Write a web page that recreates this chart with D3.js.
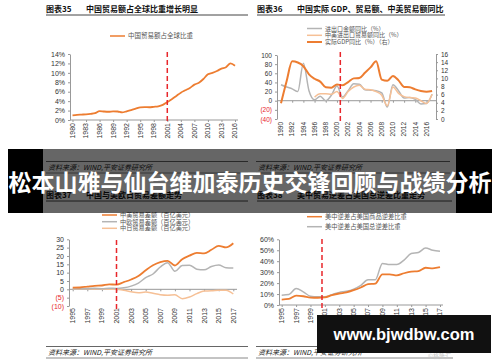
<!DOCTYPE html>
<html>
<head>
<meta charset="utf-8">
<script src="https://cdn.jsdelivr.net/npm/d3@7"></script>
<style>
  body { margin: 0; background: #fff; }
  svg { display: block; }
  text { font-family: "Liberation Sans", Arial, sans-serif; }
  .cn { font-family: "Noto Sans CJK SC", sans-serif; }
</style>
<title></title></head>
<body>
<script>
// ---- chart 35: China share of world trade (%)
var years35 = [1980,1981,1982,1983,1984,1985,1986,1987,1988,1989,1990,1991,1992,1993,1994,1995,1996,1997,1998,1999,2000,2001,2002,2003,2004,2005,2006,2007,2008,2009,2010,2011,2012,2013,2014,2015,2016];
var share35 = [1.0,1.1,1.15,1.2,1.3,1.45,1.9,1.8,1.75,1.85,1.8,1.6,1.85,2.1,2.4,2.7,2.75,2.7,2.8,2.9,3.2,3.8,4.4,5.1,5.8,6.3,6.8,7.5,7.9,8.7,9.7,10.0,10.4,10.9,11.2,12.0,11.5];
var yTicks35 = [0,2,4,6,8,10,12,14];
var xLabels35 = [1980,1983,1986,1989,1992,1995,1998,2001,2004,2007,2010,2013,2016];

// ---- chart 36: trade growth (left) and real GDP growth (right)
var years36 = [1990,1991,1992,1993,1994,1995,1996,1997,1998,1999,2000,2001,2002,2003,2004,2005,2006,2007,2008,2009,2010,2011,2012,2013,2014,2015,2016,2017];
var trade36 = [35,30,26,20,82,22,2,10,0,12,32,8,22,37,36,24,23,22,17,-14,35,22,6,7,3,-7,-6,14];
var usChina36 = [null,null,null,null,null,null,8,15,15,14,20,5,20,30,34,25,24,20,12,-11,30,16,9,7,6,0,-6,14];
var gdp36 = [3.9,9.3,14.2,13.9,13.0,11.0,9.9,9.2,7.8,7.7,8.5,8.3,9.1,10.0,10.1,11.4,12.7,14.2,9.7,9.4,10.6,9.5,7.9,7.8,7.3,6.9,6.7,6.9];
var yTicks36 = [-40,-20,0,20,40,60,80,100];
var yTicks36r = [0,2,4,6,8,10,12,14,16];
var xLabels36 = [1990,1992,1994,1996,1998,2000,2002,2004,2006,2008,2010,2012,2014,2016];

// ---- chart 37: trade balance with US / EU / Japan (100 bn USD)
var years37 = [1995,1996,1997,1998,1999,2000,2001,2002,2003,2004,2005,2006,2007,2008,2009,2010,2011,2012,2013,2014,2015,2016,2017];
var us37 = [1.0,1.1,1.6,2.1,2.3,3.0,2.8,4.3,5.9,8.0,11.4,14.4,16.3,17.1,14.3,18.1,20.2,21.9,21.6,23.7,26.1,25.1,27.6];
var eu37 = [0.2,0.3,0.5,0.6,0.4,0.7,0.5,0.9,1.9,3.7,7.0,9.2,13.4,16.0,10.8,14.3,14.5,12.1,11.7,13.7,14.6,13.0,12.8];
var jp37 = [0.0,0.2,0.3,0.2,0.1,0.0,0.1,-0.5,-1.5,-2.1,-1.6,-2.4,-3.2,-3.5,-3.3,-5.6,-4.6,-2.6,-1.0,-0.9,-0.6,-0.5,-2.8];
var yTicks37 = [-10,-5,0,5,10,15,20,25,30];
var xLabels37 = [1995,1997,1999,2001,2003,2005,2007,2009,2011,2013,2015,2017];

// ---- chart 38: US-China deficit share of US deficit (%)
var years38 = years37;
var goods38 = [5,5.5,8.5,8,6.8,6.6,7,9,10.5,11.5,13.5,16,19,19.5,28,28,27,29,30.5,31,34,33.5,34.5];
var total38 = [9,9.5,15,12,8,7.5,7.5,9.5,11.5,12.5,14.5,18,23,23,38,37,37,41,47,48,52,50,49];
var yTicks38 = [0,10,20,30,40,50,60];
var xLabels38 = xLabels37;

var ORANGE = "#ED7D31", GREY = "#B4B4B4", LIGHT = "#F6C096", RED = "#E8262B";

var svg = d3.select("body").append("svg").attr("width", 500).attr("height", 362);
svg.append("rect").attr("width", 500).attr("height", 362).attr("fill", "#fff");

function fmt(suffix) {
  return function (d) { return d < 0 ? "(" + (-d) + ")" : d + suffix; };
}

// one excel-like panel
function panel(p) {
  var x = d3.scaleLinear().domain(p.xDom).range(p.xRng);
  var y = d3.scaleLinear().domain(p.yDom).range(p.yRng);
  var g = svg.append("g");

  // y axis
  var ya = g.append("g").attr("transform", "translate(" + p.axisX + ",0)")
    .call(d3.axisLeft(y).tickValues(p.yTicks).tickSize(2).tickSizeOuter(0).tickPadding(3).tickFormat(fmt(p.suffix)));
  ya.select(".domain").attr("stroke", "#999");
  ya.selectAll(".tick line").attr("stroke", "#999");
  ya.selectAll(".tick text").attr("font-size", p.fs).attr("fill", function (d) { return d < 0 ? RED : "#333"; });

  // right axis if any
  var yR = null;
  if (p.yDomR) {
    yR = d3.scaleLinear().domain(p.yDomR).range(p.yRngR);
    var yra = g.append("g").attr("transform", "translate(" + p.axisXR + ",0)")
      .call(d3.axisRight(yR).tickValues(p.yTicksR).tickSize(2).tickSizeOuter(0).tickPadding(3));
    yra.select(".domain").attr("stroke", "#999");
    yra.selectAll(".tick line").attr("stroke", "#999");
    yra.selectAll(".tick text").attr("font-size", p.fs).attr("fill", "#333");
  }

  // x axis on the zero line
  var xa = g.append("g").attr("transform", "translate(0," + y(0) + ")")
    .call(d3.axisBottom(x).tickValues(p.xLabels).tickSize(2).tickSizeOuter(0).tickFormat(""));
  xa.select(".domain").remove();
  xa.selectAll(".tick line").attr("stroke", "#999");
  g.append("line").attr("x1", p.axisX).attr("x2", p.axisEnd)
    .attr("y1", y(0)).attr("y2", y(0)).attr("stroke", "#999");

  // rotated year labels
  g.selectAll("text.yr").data(p.xLabels).join("text").attr("class", "yr")
    .attr("transform", function (d) { return "translate(" + x(d) + "," + p.labelTop + ") rotate(-90)"; })
    .attr("text-anchor", "end").attr("dy", "0.35em")
    .attr("font-size", p.fs).attr("fill", "#333")
    .text(function (d) { return d; });

  // series
  p.series.forEach(function (s) {
    var sc = s.right ? yR : y;
    var pts = p.years.map(function (yr, i) { return [yr, s.values[i]]; });
    var line = d3.line().defined(function (d) { return d[1] != null; })
      .x(function (d) { return x(d[0]); }).y(function (d) { return sc(d[1]); })
      .curve(d3.curveMonotoneX);
    g.append("path").datum(pts).attr("d", line).attr("fill", "none")
      .attr("stroke", s.color).attr("stroke-width", s.w).attr("stroke-linejoin", "round");
  });

  // red dashed marker
  g.append("line").attr("x1", x(p.mark)).attr("x2", x(p.mark))
    .attr("y1", p.markY[0]).attr("y2", p.markY[1])
    .attr("stroke", RED).attr("stroke-width", 1.5).attr("stroke-dasharray", "5,3");
}

function legend(x0, items) {
  items.forEach(function (it) {
    svg.append("line").attr("x1", x0).attr("x2", x0 + 15).attr("y1", it.y).attr("y2", it.y)
      .attr("stroke", it.color).attr("stroke-width", it.w);
    svg.append("text").attr("class", "cn").attr("x", x0 + 18).attr("y", it.y).attr("dy", "0.35em")
      .attr("font-size", it.fs).attr("fill", "#555").text(it.label);
  });
}

function header(x0, x1, y0, num, title) {
  svg.append("text").attr("class", "cn").attr("x", x0).attr("y", y0).attr("dy", "0.35em")
    .attr("font-size", 8).attr("font-weight", "bold").attr("fill", "#111").text(num);
  svg.append("text").attr("class", "cn").attr("x", x0 + 40).attr("y", y0).attr("dy", "0.35em")
    .attr("font-size", 8).attr("font-weight", "bold").attr("fill", "#111").text(title);
  svg.append("line").attr("x1", x0).attr("x2", x1).attr("y1", y0 + 6).attr("y2", y0 + 6)
    .attr("stroke", "#444").attr("stroke-width", 1);
}

function source(x0, x1, yLine) {
  svg.append("line").attr("x1", x0).attr("x2", x1).attr("y1", yLine).attr("y2", yLine).attr("stroke", "#666");
  svg.append("text").attr("class", "cn").attr("x", x0 + 2).attr("y", yLine + 6).attr("dy", "0.35em")
    .attr("font-size", 7).attr("font-style", "italic").attr("fill", "#222").text("资料来源：WIND,平安证券研究所");
  svg.append("line").attr("x1", x0).attr("x2", x1).attr("y1", yLine + 11.5).attr("y2", yLine + 11.5).attr("stroke", "#888");
}

// ---- headers and sources
header(46, 248, 9, "图表35", "中国贸易额占全球比重增长明显");
header(257, 445, 9, "图表36", "中国实际 GDP、贸易额、中美贸易额同比");
header(46, 248, 195, "图表37", "中国与美欧日贸易差额走势");
header(257, 452, 195, "图表38", "美中贸易逆差占美国总逆差比重走势");
source(46, 248, 161.5);
source(256, 450, 161.5);
source(46, 248, 346.5);
source(256, 453, 346.5);

// ---- chart 35
legend(110, [{ y: 36, color: ORANGE, w: 1.5, fs: 6.5, label: "中国贸易额占全球比重" }]);
panel({
  years: years35, xDom: [1980, 2016], xRng: [72.5, 235], yDom: [0, 14], yRng: [120, 54],
  axisX: 70, axisEnd: 238, yTicks: yTicks35, suffix: "%", fs: 7, xLabels: xLabels35, labelTop: 123,
  series: [{ values: share35, color: ORANGE, w: 1.8 }],
  mark: 2001, markY: [52, 122]
});

// ---- chart 36
legend(307, [
  { y: 28.5, color: GREY, w: 1.5, fs: 6, label: "进出口金额同比（%）" },
  { y: 35.3, color: LIGHT, w: 1.5, fs: 6, label: "中美进出口贸易额同比（%）" },
  { y: 42, color: ORANGE, w: 2, fs: 6, label: "实际GDP同比（%）（右）" }
]);
panel({
  years: years36, xDom: [1990, 2016], xRng: [281, 426.5], yDom: [-40, 100], yRng: [119, 55],
  axisX: 277, axisEnd: 436, yTicks: yTicks36, suffix: "", fs: 6.5, xLabels: xLabels36, labelTop: 122,
  yDomR: [0, 16], yRngR: [119, 54], axisXR: 436, yTicksR: yTicks36r,
  series: [
    { values: trade36, color: GREY, w: 1.5 },
    { values: usChina36, color: LIGHT, w: 1.5 },
    { values: gdp36, color: ORANGE, w: 2, right: true }
  ],
  mark: 2000.6, markY: [52, 122]
});

// ---- chart 37
legend(102, [
  { y: 215, color: ORANGE, w: 1.5, fs: 6.2, label: "中美贸易差额（百亿美元）" },
  { y: 221.7, color: GREY, w: 1.5, fs: 6.2, label: "中欧贸易差额（百亿美元）" },
  { y: 228.3, color: LIGHT, w: 1.5, fs: 6.2, label: "中日贸易差额（百亿美元）" }
]);
panel({
  years: years37, xDom: [1995, 2017], xRng: [72.7, 233.3], yDom: [-10, 30], yRng: [306, 239.3],
  axisX: 69, axisEnd: 237, yTicks: yTicks37, suffix: "", fs: 7, xLabels: xLabels37, labelTop: 308,
  series: [
    { values: jp37, color: LIGHT, w: 1.5 },
    { values: eu37, color: GREY, w: 1.5 },
    { values: us37, color: ORANGE, w: 1.8 }
  ],
  mark: 2001, markY: [240, 310]
});

// ---- chart 38
legend(307, [
  { y: 216.7, color: ORANGE, w: 1.5, fs: 6.3, label: "美中逆差占美国商品逆差比重" },
  { y: 226.7, color: GREY, w: 1.5, fs: 6.3, label: "美中逆差占美国总逆差比重" }
]);
panel({
  years: years38, xDom: [1995, 2017], xRng: [281.7, 440], yDom: [0, 60], yRng: [305, 239.3],
  axisX: 279, axisEnd: 443, yTicks: yTicks38, suffix: "%", fs: 7, xLabels: xLabels38, labelTop: 308,
  series: [
    { values: total38, color: GREY, w: 1.5 },
    { values: goods38, color: ORANGE, w: 1.8 }
  ],
  mark: 2000.6, markY: [239, 309]
});

// ---- banner across the middle
svg.append("rect").attr("x", 8).attr("y", 149).attr("width", 35).attr("height", 64).attr("fill", "#000");
svg.append("rect").attr("x", 456).attr("y", 149).attr("width", 36).attr("height", 64).attr("fill", "#000");
svg.append("rect").attr("x", 43).attr("y", 149).attr("width", 413).attr("height", 64).attr("fill", "rgba(0,0,0,0.6)");
svg.append("text").attr("class", "cn").attr("x", 250).attr("y", 183).attr("dy", "0.35em")
  .attr("text-anchor", "middle").attr("font-size", 23).attr("font-weight", "bold").attr("fill", "#fff")
  .text("松本山雅与仙台维加泰历史交锋回顾与战绩分析");

// ---- watermark
svg.append("text").attr("class", "cn").attr("x", 428).attr("y", 355.5).attr("dy", "0.35em")
  .attr("font-size", 6).attr("fill", "#c8c8c8").text("©格隆汇");
svg.append("rect").attr("x", 317).attr("y", 315).attr("width", 174).attr("height", 38).attr("fill", "#111");
svg.append("text").attr("x", 404).attr("y", 334).attr("dy", "0.35em").attr("text-anchor", "middle")
  .attr("font-family", "DejaVu Sans").attr("font-size", 16.5).attr("font-weight", "bold").attr("fill", "#fff")
  .text("www.bjwdbw.com");
</script>
</body>
</html>
